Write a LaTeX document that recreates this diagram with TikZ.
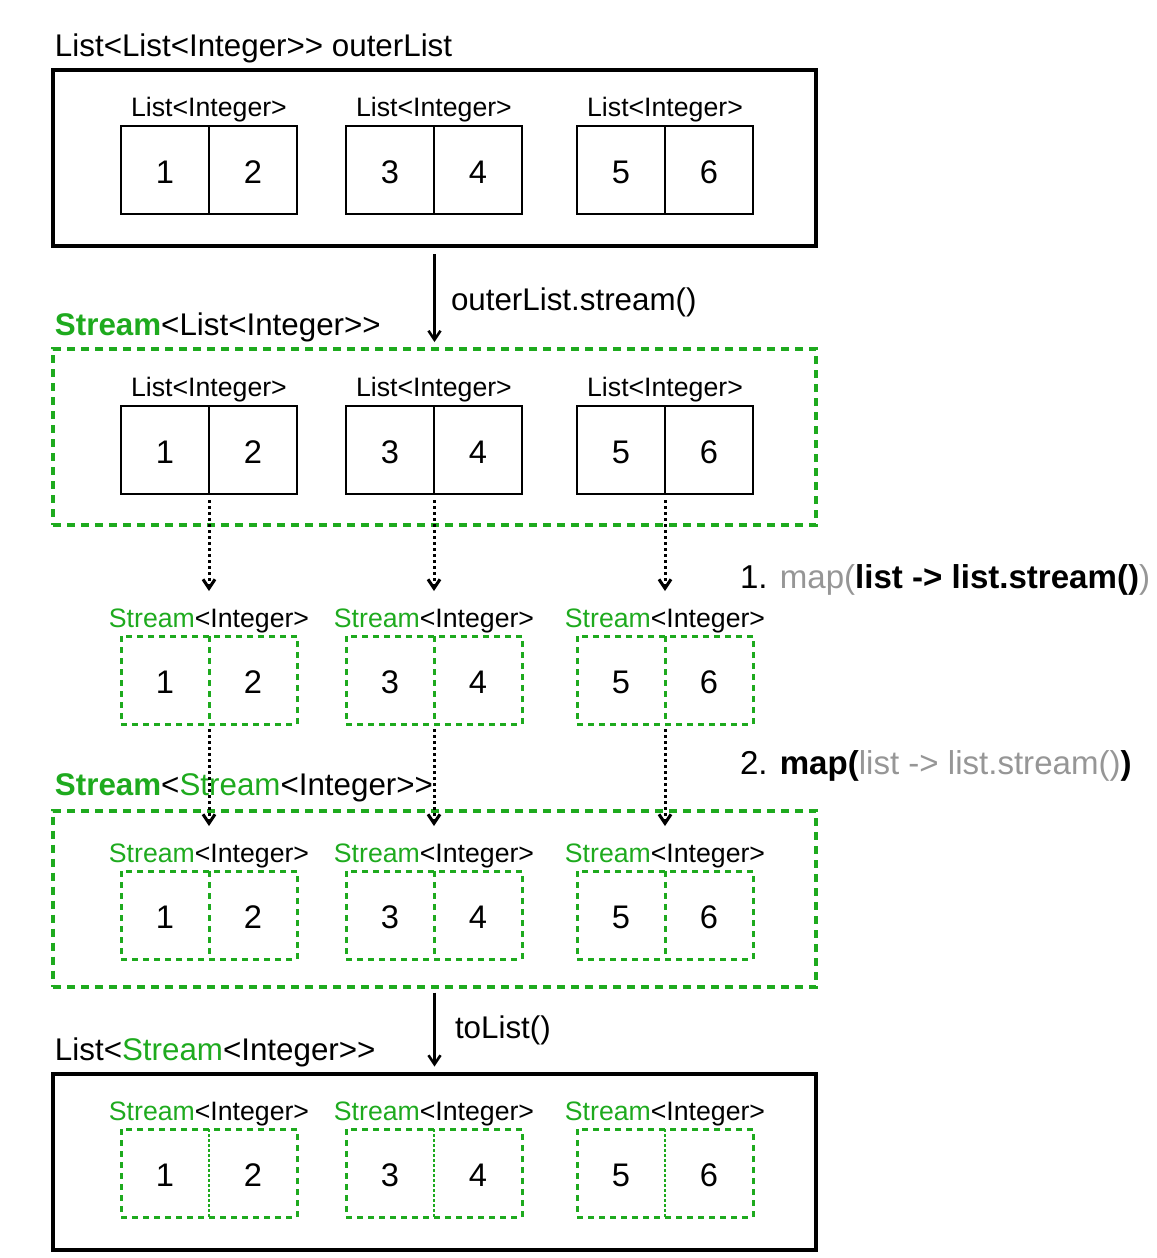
\documentclass[tikz,border=0pt]{standalone}
\usepackage{fontspec}
\setmainfont{Liberation Sans}[Ligatures=TeXOff]
\usepackage{xcolor}
\usetikzlibrary{arrows.meta}

\definecolor{strgreen}{RGB}{30,170,30}
\definecolor{callgray}{RGB}{150,150,150}

\begin{document}
\begin{tikzpicture}[x=0.75pt,y=0.75pt,yscale=-1,xscale=1,
    every node/.style={inner sep=0pt, outer sep=0pt},
    solidbox/.style={draw, line width=3pt, minimum width=572.25pt, minimum height=132pt},
    streambox/.style={draw=strgreen, line width=3pt, dash pattern={on 6pt off 4.5pt}, minimum width=572.25pt, minimum height=132pt},
    listpair/.style={draw, line width=1.5pt, minimum width=132pt, minimum height=66pt},
    streampair/.style={draw=strgreen, line width=2.25pt, dash pattern={on 4.5pt off 3.75pt}, minimum width=132pt, minimum height=66pt},
    listdiv/.style={line width=1.5pt},
    streamdiv/.style={draw=strgreen, line width=2.25pt, dash pattern={on 4.5pt off 3.75pt}},
    finediv/.style={draw=strgreen, line width=1.1pt, dash pattern={on 2.25pt off 1.5pt}},
    num/.style={font=\fontsize{24.5}{29}\selectfont},
    typename/.style={anchor=base, font=\fontsize{20}{24}\selectfont},
    title/.style={anchor=base west, font=\fontsize{23.5}{28}\selectfont},
    call/.style={anchor=base west, font=\fontsize{23.5}{28}\selectfont},
    mapcall/.style={anchor=base west, font=\fontsize{24.8}{29}\selectfont},
    flow/.style={-{Straight Barb[length=6.75pt,width=9pt]}, line width=1.9pt},
    dotflow/.style={flow, line width=2.25pt, dash pattern={on 2.25pt off 2.25pt}},
]
    \useasboundingbox (0,0) rectangle (1157,1258);

    %Shape: outer boxes
    \node[solidbox] (lst) at (434.5,158) {};
    \node[streambox] (strm) at (434.5,437) {};
    \node[streambox] (nested) at (434.5,898.5) {};
    \node[solidbox] (res) at (434.5,1161.5) {};

    % Text Node
    \node[title] (tlst) at (55,56) {List<List<Integer>> outerList};
    % Text Node
    \node[title] (tstrm) at (55,335) {\textcolor{strgreen}{\textbf{Stream}}<List<Integer>>};
    % Text Node
    \node[title] (tnested) at (55,795) {\textcolor{strgreen}{\textbf{Stream}}<\textcolor{strgreen}{Stream}<Integer>>};
    % Text Node
    \node[title] (tres) at (55,1060) {List<\textcolor{strgreen}{Stream}<Integer>>};

    %Shape: row 1, List<Integer> in outerList
    \node[listpair] (pl1) at (209,170) {};
    \node[listpair] (pl2) at (434,170) {};
    \node[listpair] (pl3) at (665,170) {};
    \draw[listdiv] (pl1.north) -- (pl1.south);
    \draw[listdiv] (pl2.north) -- (pl2.south);
    \draw[listdiv] (pl3.north) -- (pl3.south);
    \node[typename] (tl1) at (209,116.5) {List<Integer>};
    \node[typename] (tl2) at (434,116.5) {List<Integer>};
    \node[typename] (tl3) at (665,116.5) {List<Integer>};
    \node[num] (nl1a) at (165,172) {1};
    \node[num] (nl1b) at (253,172) {2};
    \node[num] (nl2a) at (390,172) {3};
    \node[num] (nl2b) at (478,172) {4};
    \node[num] (nl3a) at (621,172) {5};
    \node[num] (nl3b) at (709,172) {6};

    %Shape: row 2, List<Integer> in the stream
    \node[listpair] (ps1) at (209,450) {};
    \node[listpair] (ps2) at (434,450) {};
    \node[listpair] (ps3) at (665,450) {};
    \draw[listdiv] (ps1.north) -- (ps1.south);
    \draw[listdiv] (ps2.north) -- (ps2.south);
    \draw[listdiv] (ps3.north) -- (ps3.south);
    \node[typename] (ts1) at (209,396.5) {List<Integer>};
    \node[typename] (ts2) at (434,396.5) {List<Integer>};
    \node[typename] (ts3) at (665,396.5) {List<Integer>};
    \node[num] (ns1a) at (165,452) {1};
    \node[num] (ns1b) at (253,452) {2};
    \node[num] (ns2a) at (390,452) {3};
    \node[num] (ns2b) at (478,452) {4};
    \node[num] (ns3a) at (621,452) {5};
    \node[num] (ns3b) at (709,452) {6};

    %Shape: row 3, Stream<Integer> after the first map
    \node[streampair] (pm1) at (209,680) {};
    \node[streampair] (pm2) at (434,680) {};
    \node[streampair] (pm3) at (665,680) {};
    \draw[streamdiv] (pm1.north) -- (pm1.south);
    \draw[streamdiv] (pm2.north) -- (pm2.south);
    \draw[streamdiv] (pm3.north) -- (pm3.south);
    \node[typename] (tm1) at (209,627) {\textcolor{strgreen}{Stream}<Integer>};
    \node[typename] (tm2) at (434,627) {\textcolor{strgreen}{Stream}<Integer>};
    \node[typename] (tm3) at (665,627) {\textcolor{strgreen}{Stream}<Integer>};
    \node[num] (nm1a) at (165,682) {1};
    \node[num] (nm1b) at (253,682) {2};
    \node[num] (nm2a) at (390,682) {3};
    \node[num] (nm2b) at (478,682) {4};
    \node[num] (nm3a) at (621,682) {5};
    \node[num] (nm3b) at (709,682) {6};

    %Shape: row 4, Stream<Integer> in the stream
    \node[streampair] (pn1) at (209,915) {};
    \node[streampair] (pn2) at (434,915) {};
    \node[streampair] (pn3) at (665,915) {};
    \draw[streamdiv] (pn1.north) -- (pn1.south);
    \draw[streamdiv] (pn2.north) -- (pn2.south);
    \draw[streamdiv] (pn3.north) -- (pn3.south);
    \node[typename] (tn1) at (209,862) {\textcolor{strgreen}{Stream}<Integer>};
    \node[typename] (tn2) at (434,862) {\textcolor{strgreen}{Stream}<Integer>};
    \node[typename] (tn3) at (665,862) {\textcolor{strgreen}{Stream}<Integer>};
    \node[num] (nn1a) at (165,917) {1};
    \node[num] (nn1b) at (253,917) {2};
    \node[num] (nn2a) at (390,917) {3};
    \node[num] (nn2b) at (478,917) {4};
    \node[num] (nn3a) at (621,917) {5};
    \node[num] (nn3b) at (709,917) {6};

    %Shape: row 5, Stream<Integer> in the list
    \node[streampair] (pr1) at (209,1173) {};
    \node[streampair] (pr2) at (434,1173) {};
    \node[streampair] (pr3) at (665,1173) {};
    \draw[finediv] (pr1.north) -- (pr1.south);
    \draw[finediv] (pr2.north) -- (pr2.south);
    \draw[finediv] (pr3.north) -- (pr3.south);
    \node[typename] (tr1) at (209,1120) {\textcolor{strgreen}{Stream}<Integer>};
    \node[typename] (tr2) at (434,1120) {\textcolor{strgreen}{Stream}<Integer>};
    \node[typename] (tr3) at (665,1120) {\textcolor{strgreen}{Stream}<Integer>};
    \node[num] (nr1a) at (165,1175) {1};
    \node[num] (nr1b) at (253,1175) {2};
    \node[num] (nr2a) at (390,1175) {3};
    \node[num] (nr2b) at (478,1175) {4};
    \node[num] (nr3a) at (621,1175) {5};
    \node[num] (nr3b) at (709,1175) {6};

    %Straight Lines: calls between the stages
    \draw[flow, shorten <=6pt, shorten >=5.25pt] (lst.south) -- (strm.north);
    \draw[dotflow, shorten <=4.5pt, shorten >=33.75pt] (ps1.south) -- (pm1.north);
    \draw[dotflow, shorten <=4.5pt, shorten >=33.75pt] (ps2.south) -- (pm2.north);
    \draw[dotflow, shorten <=4.5pt, shorten >=33.75pt] (ps3.south) -- (pm3.north);
    \draw[dotflow, shorten <=3.75pt, shorten >=33.75pt] (pm1.south) -- (pn1.north);
    \draw[dotflow, shorten <=3.75pt, shorten >=33.75pt] (pm2.south) -- (pn2.north);
    \draw[dotflow, shorten <=3.75pt, shorten >=33.75pt] (pm3.south) -- (pn3.north);
    \draw[flow, shorten <=4.5pt, shorten >=5.25pt] (nested.south) -- (res.north);

    % Text Node
    \node[call] (cstream) at (451,310) {outerList.stream()};
    % Text Node
    \node[mapcall] (cmapone) at (740,588) {1. \textcolor{callgray}{map(}\textbf{list -> list.stream()}\textcolor{callgray}{)}};
    % Text Node
    \node[mapcall] (cmaptwo) at (740,774) {2. \textbf{map(}\textcolor{callgray}{list -> list.stream()}\textbf{)}};
    % Text Node
    \node[call] (ctolist) at (455,1038) {toList()};

\end{tikzpicture}
\end{document}
